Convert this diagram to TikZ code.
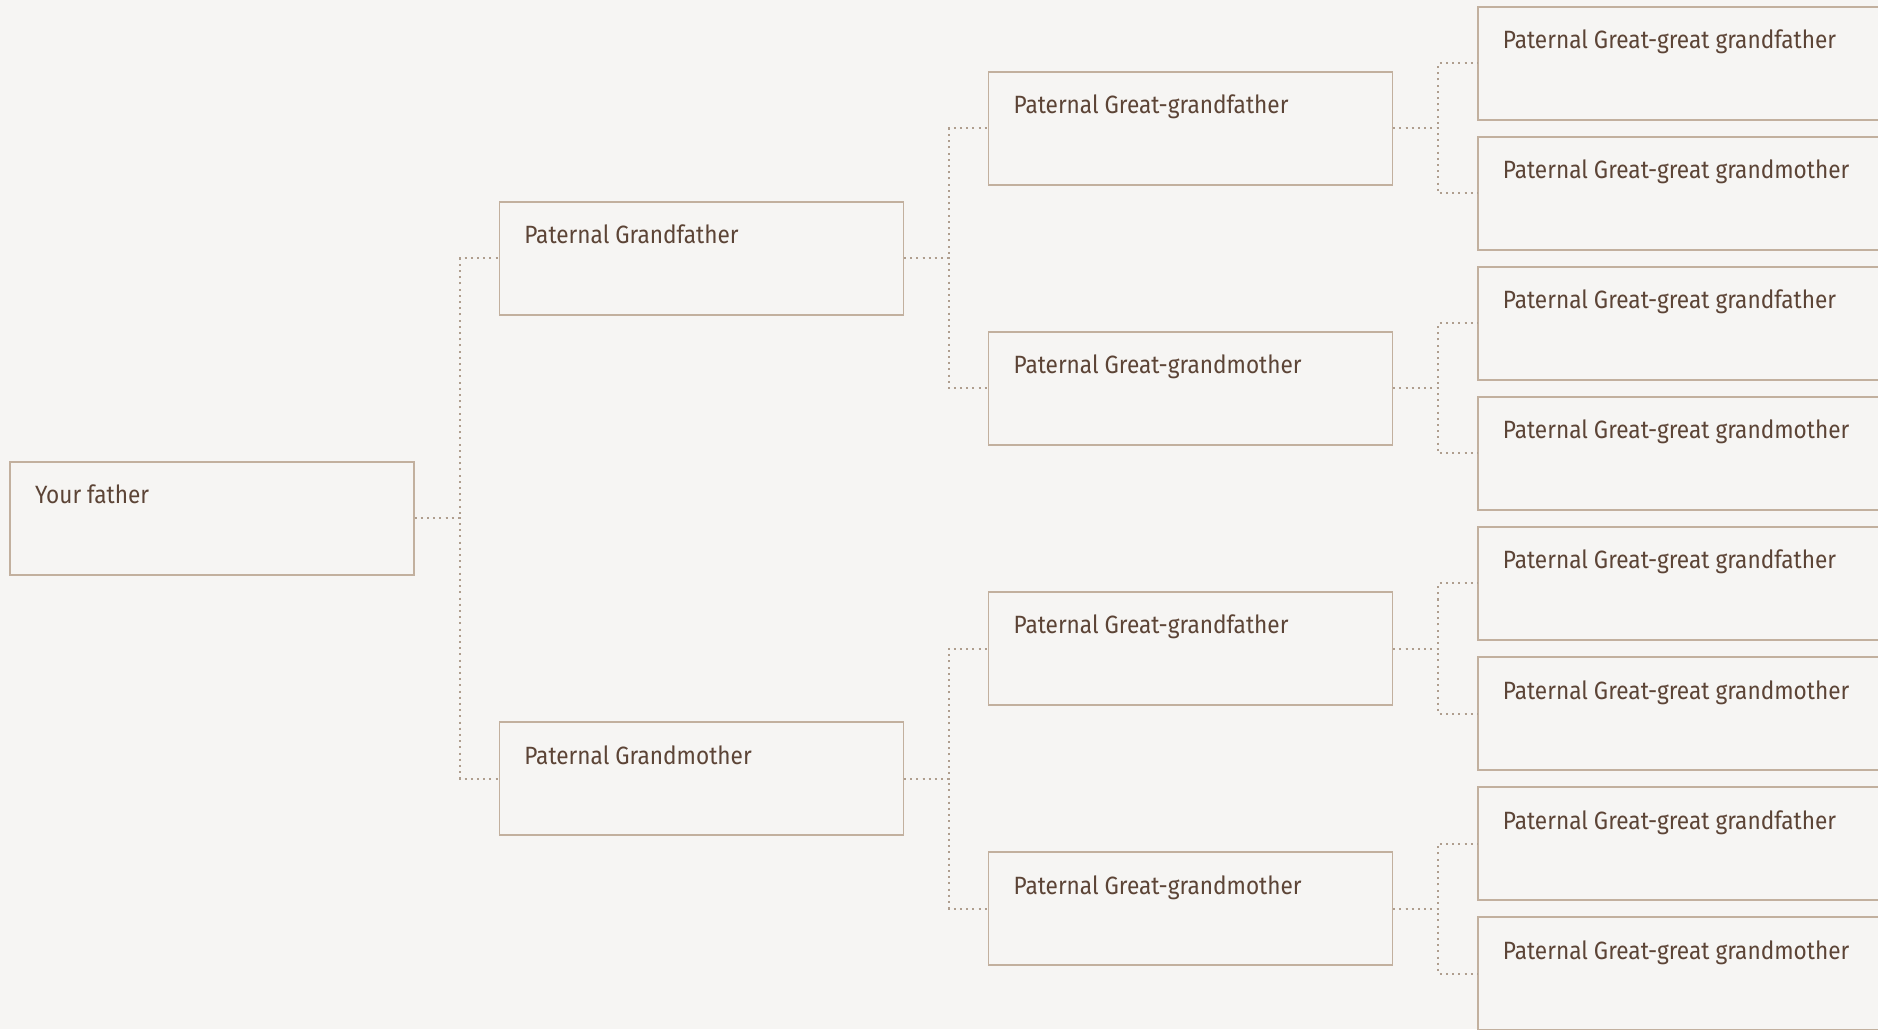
\documentclass[tikz,border=0pt]{standalone}
\usepackage{fontspec}
\newfontfamily\treefont{Fira Sans}[FakeStretch=0.905]
\usetikzlibrary{positioning}

\definecolor{paper}{RGB}{246,245,243}
\definecolor{frame}{RGB}{194,176,158}
\definecolor{ink}{RGB}{92,68,54}

\tikzset{
  person/.style={draw=frame, line width=0.65pt, rectangle,
    inner xsep=12.5pt, inner ysep=0pt,
    execute at begin node={\hbox to 177pt\bgroup},
    execute at end node={\hfil\egroup},
    text height=21pt, text depth=35.5pt, text=ink,
    font=\treefont\fontsize{12.5}{15}\selectfont},
  link/.style={draw=frame!90!black, line width=1pt, dash pattern=on 1pt off 2.1pt},
  fork/.style={to path={-- ++(22.5pt,0) |- (\tikztotarget)}}
}

\begin{document}
\begin{tikzpicture}[node distance=42pt]

    \fill[paper] (0,0) rectangle (939pt,514.5pt);
    \useasboundingbox (0,0) rectangle (939pt,514.5pt);

    \node[person] (father) at (106pt,255.25pt) {Your father};

    \node[person] (grandpa) [right=of father, yshift=130pt] {Paternal Grandfather};
    \node[person] (grandma) [right=of father, yshift=-130pt] {Paternal Grandmother};

    \node[person] (ggpa1) [right=of grandpa, yshift=65pt] {Paternal Great-grandfather};
    \node[person] (ggma1) [right=of grandpa, yshift=-65pt] {Paternal Great-grandmother};
    \node[person] (ggpa2) [right=of grandma, yshift=65pt] {Paternal Great-grandfather};
    \node[person] (ggma2) [right=of grandma, yshift=-65pt] {Paternal Great-grandmother};

    \node[person] (gggpa1) [right=of ggpa1, yshift=32.5pt] {Paternal Great-great grandfather};
    \node[person] (gggma1) [right=of ggpa1, yshift=-32.5pt] {Paternal Great-great grandmother};
    \node[person] (gggpa2) [right=of ggma1, yshift=32.5pt] {Paternal Great-great grandfather};
    \node[person] (gggma2) [right=of ggma1, yshift=-32.5pt] {Paternal Great-great grandmother};
    \node[person] (gggpa3) [right=of ggpa2, yshift=32.5pt] {Paternal Great-great grandfather};
    \node[person] (gggma3) [right=of ggpa2, yshift=-32.5pt] {Paternal Great-great grandmother};
    \node[person] (gggpa4) [right=of ggma2, yshift=32.5pt] {Paternal Great-great grandfather};
    \node[person] (gggma4) [right=of ggma2, yshift=-32.5pt] {Paternal Great-great grandmother};

    \path[link] (father.east) edge[fork] (grandpa.west)
                              edge[fork] (grandma.west)
                (grandpa.east) edge[fork] (ggpa1.west)
                               edge[fork] (ggma1.west)
                (grandma.east) edge[fork] (ggpa2.west)
                               edge[fork] (ggma2.west)
                (ggpa1.east) edge[fork] (gggpa1.west)
                             edge[fork] (gggma1.west)
                (ggma1.east) edge[fork] (gggpa2.west)
                             edge[fork] (gggma2.west)
                (ggpa2.east) edge[fork] (gggpa3.west)
                             edge[fork] (gggma3.west)
                (ggma2.east) edge[fork] (gggpa4.west)
                             edge[fork] (gggma4.west);

\end{tikzpicture}
\end{document}
